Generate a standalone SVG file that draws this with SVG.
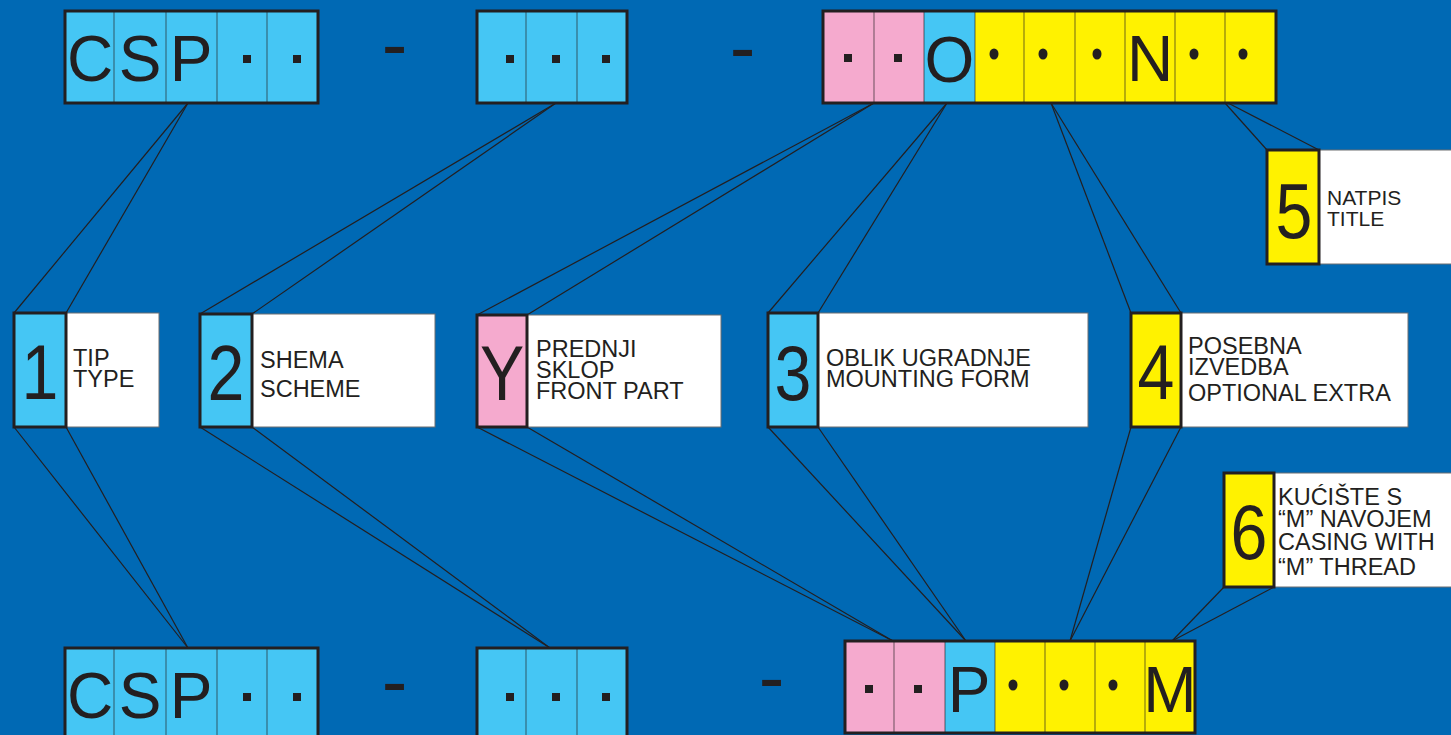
<svg xmlns="http://www.w3.org/2000/svg" width="1451" height="735" viewBox="0 0 1451 735">
<style>
.bg{fill:#0069B4}
.frame{fill:none;stroke:#231F20;stroke-width:3}
.div{stroke:#231F20;stroke-opacity:0.55;stroke-width:1.2}
.blue{fill:#45C6F4}
.pink{fill:#F5AACE}
.yel{fill:#FFF200}
.wht{fill:#FFFFFF;stroke:#6d6e71;stroke-width:1}
.key{stroke:#231F20;stroke-width:3}
.big{font-family:"Liberation Sans",Arial,sans-serif;font-size:64px;fill:#231F20;text-anchor:middle}
.dig{font-family:"Liberation Sans",Arial,sans-serif;font-size:78px;fill:#231F20;text-anchor:middle}
.lbl{font-family:"Liberation Sans",Arial,sans-serif;font-size:23.5px;fill:#231F20}
.dash{font-family:"Liberation Sans",Arial,sans-serif;font-size:77px;fill:#231F20;text-anchor:middle}
.dot{fill:#231F20}
.con line{stroke:#231F20;stroke-width:1.2}
</style>
<rect class="bg" x="0" y="0" width="1451" height="735"/>

<g id="connectors" class="con">
  <line x1="188" y1="103" x2="14" y2="313"/>
  <line x1="188" y1="103" x2="66" y2="313"/>
  <line x1="14" y1="427" x2="188" y2="648"/>
  <line x1="66" y1="427" x2="188" y2="648"/>
  <line x1="556" y1="103" x2="200" y2="314"/>
  <line x1="556" y1="103" x2="252" y2="314"/>
  <line x1="200" y1="427" x2="550" y2="648"/>
  <line x1="252" y1="427" x2="550" y2="648"/>
  <line x1="874" y1="103" x2="477" y2="315"/>
  <line x1="874" y1="103" x2="527" y2="315"/>
  <line x1="477" y1="427" x2="893" y2="641"/>
  <line x1="527" y1="427" x2="893" y2="641"/>
  <line x1="947" y1="103" x2="768" y2="313"/>
  <line x1="947" y1="103" x2="818" y2="313"/>
  <line x1="768" y1="427" x2="966" y2="641"/>
  <line x1="818" y1="427" x2="966" y2="641"/>
  <line x1="1051" y1="103" x2="1131" y2="313"/>
  <line x1="1051" y1="103" x2="1181" y2="313"/>
  <line x1="1131" y1="427" x2="1070" y2="641"/>
  <line x1="1181" y1="427" x2="1070" y2="641"/>
  <line x1="1225" y1="103" x2="1267" y2="150"/>
  <line x1="1228" y1="103" x2="1319" y2="150"/>
  <line x1="1224" y1="587" x2="1172" y2="641"/>
  <line x1="1274" y1="587" x2="1172" y2="641"/>
</g>

<g id="top-csp">
  <rect class="blue" x="65" y="11" width="253" height="92"/>
  <line class="div" x1="114" y1="11" x2="114" y2="103"/>
  <line class="div" x1="166" y1="11" x2="166" y2="103"/>
  <line class="div" x1="217" y1="11" x2="217" y2="103"/>
  <line class="div" x1="267" y1="11" x2="267" y2="103"/>
  <rect class="frame" x="65" y="11" width="253" height="92"/>
  <text class="big" x="90" y="81">C</text>
  <text class="big" x="140" y="81">S</text>
  <text class="big" x="191" y="81">P</text>
  <rect class="dot" x="243" y="55" width="8" height="8"/>
  <rect class="dot" x="293" y="55" width="8" height="8"/>
</g>
<text class="dash" x="394.5" y="71">-</text>

<g id="top-scheme">
  <rect class="blue" x="477" y="11" width="150" height="92"/>
  <line class="div" x1="526" y1="11" x2="526" y2="103"/>
  <line class="div" x1="577" y1="11" x2="577" y2="103"/>
  <rect class="frame" x="477" y="11" width="150" height="92"/>
  <rect class="dot" x="506" y="55" width="8" height="8"/>
  <rect class="dot" x="552" y="55" width="8" height="8"/>
  <rect class="dot" x="602" y="55" width="8" height="8"/>
</g>
<text class="dash" x="742.5" y="74">-</text>

<g id="top-suffix">
  <rect class="pink" x="823" y="11" width="101" height="92"/>
  <rect class="blue" x="924" y="11" width="51" height="92"/>
  <rect class="yel" x="975" y="11" width="301" height="92"/>
  <line class="div" x1="874" y1="11" x2="874" y2="103"/>
  <line class="div" x1="924" y1="11" x2="924" y2="103"/>
  <line class="div" x1="975" y1="11" x2="975" y2="103"/>
  <line class="div" x1="1024" y1="11" x2="1024" y2="103"/>
  <line class="div" x1="1075" y1="11" x2="1075" y2="103"/>
  <line class="div" x1="1125" y1="11" x2="1125" y2="103"/>
  <line class="div" x1="1175" y1="11" x2="1175" y2="103"/>
  <line class="div" x1="1225" y1="11" x2="1225" y2="103"/>
  <rect class="frame" x="823" y="11" width="453" height="92"/>
  <rect class="dot" x="844" y="54" width="8" height="8"/>
  <rect class="dot" x="894" y="54" width="8" height="8"/>
  <text class="big" x="949.5" y="82">O</text>
  <ellipse class="dot" cx="994" cy="54" rx="4.5" ry="5.5"/>
  <ellipse class="dot" cx="1043" cy="54" rx="4.5" ry="5.5"/>
  <ellipse class="dot" cx="1097" cy="54" rx="4.5" ry="5.5"/>
  <text class="big" x="1150" y="81">N</text>
  <ellipse class="dot" cx="1194" cy="54" rx="4.5" ry="5.5"/>
  <ellipse class="dot" cx="1243" cy="54" rx="4.5" ry="5.5"/>
</g>

<g id="key-1">
  <rect class="wht" x="66" y="313" width="93" height="114"/>
  <rect class="blue key" x="14" y="313" width="52" height="114"/>
  <text class="dig" transform="translate(40,399) scale(0.85,1)">1</text>
  <text class="lbl" x="73" y="366">TIP</text>
  <text class="lbl" x="73" y="387">TYPE</text>
</g>

<g id="key-2">
  <rect class="wht" x="252" y="314" width="183" height="113"/>
  <rect class="blue key" x="200" y="314" width="52" height="113"/>
  <text class="dig" transform="translate(226,400) scale(0.85,1)">2</text>
  <text class="lbl" x="260" y="368">SHEMA</text>
  <text class="lbl" x="260" y="397">SCHEME</text>
</g>

<g id="key-y">
  <rect class="wht" x="527" y="315" width="194" height="112"/>
  <rect class="pink key" x="477" y="315" width="50" height="112"/>
  <text class="dig" transform="translate(502,400) scale(0.85,1)">Y</text>
  <text class="lbl" x="536" y="357">PREDNJI</text>
  <text class="lbl" x="536" y="378">SKLOP</text>
  <text class="lbl" x="536" y="399">FRONT PART</text>
</g>

<g id="key-3">
  <rect class="wht" x="818" y="313" width="270" height="114"/>
  <rect class="blue key" x="768" y="313" width="50" height="114"/>
  <text class="dig" transform="translate(793,400) scale(0.85,1)">3</text>
  <text class="lbl" x="826" y="366">OBLIK UGRADNJE</text>
  <text class="lbl" x="826" y="387">MOUNTING FORM</text>
</g>

<g id="key-4">
  <rect class="wht" x="1181" y="313" width="227" height="114"/>
  <rect class="yel key" x="1131" y="313" width="50" height="114"/>
  <text class="dig" transform="translate(1156,399) scale(0.85,1)">4</text>
  <text class="lbl" x="1188" y="354">POSEBNA</text>
  <text class="lbl" x="1188" y="375">IZVEDBA</text>
  <text class="lbl" x="1188" y="401">OPTIONAL EXTRA</text>
</g>

<g id="key-5">
  <rect class="wht" x="1319" y="150" width="140" height="114"/>
  <rect class="yel key" x="1267" y="150" width="52" height="114"/>
  <text class="dig" transform="translate(1294,238) scale(0.85,1)">5</text>
  <text class="lbl" x="1327" y="205" style="font-size:21px">NATPIS</text>
  <text class="lbl" x="1327" y="226" style="font-size:21px">TITLE</text>
</g>

<g id="key-6">
  <rect class="wht" x="1274" y="473" width="185" height="114"/>
  <rect class="yel key" x="1224" y="473" width="50" height="114"/>
  <text class="dig" transform="translate(1249,559) scale(0.85,1)">6</text>
  <text class="lbl" x="1278" y="505">KUĆIŠTE S</text>
  <text class="lbl" x="1278" y="527">“M” NAVOJEM</text>
  <text class="lbl" x="1278" y="550">CASING WITH</text>
  <text class="lbl" x="1278" y="575">“M” THREAD</text>
</g>

<g id="bottom-csp">
  <rect class="blue" x="65" y="648" width="253" height="92"/>
  <line class="div" x1="114" y1="648" x2="114" y2="740"/>
  <line class="div" x1="166" y1="648" x2="166" y2="740"/>
  <line class="div" x1="217" y1="648" x2="217" y2="740"/>
  <line class="div" x1="267" y1="648" x2="267" y2="740"/>
  <rect class="frame" x="65" y="648" width="253" height="92"/>
  <text class="big" x="90" y="718">C</text>
  <text class="big" x="140" y="718">S</text>
  <text class="big" x="191" y="718">P</text>
  <rect class="dot" x="243" y="693" width="8" height="8"/>
  <rect class="dot" x="293" y="693" width="8" height="8"/>
</g>
<text class="dash" x="394.5" y="708">-</text>

<g id="bottom-scheme">
  <rect class="blue" x="477" y="648" width="150" height="92"/>
  <line class="div" x1="526" y1="648" x2="526" y2="740"/>
  <line class="div" x1="577" y1="648" x2="577" y2="740"/>
  <rect class="frame" x="477" y="648" width="150" height="92"/>
  <rect class="dot" x="506" y="693" width="8" height="8"/>
  <rect class="dot" x="552" y="693" width="8" height="8"/>
  <rect class="dot" x="602" y="693" width="8" height="8"/>
</g>
<text class="dash" x="771.5" y="704">-</text>

<g id="bottom-suffix">
  <rect class="pink" x="845" y="641" width="100" height="92"/>
  <rect class="blue" x="945" y="641" width="50" height="92"/>
  <rect class="yel" x="995" y="641" width="200" height="92"/>
  <line class="div" x1="894" y1="641" x2="894" y2="733"/>
  <line class="div" x1="945" y1="641" x2="945" y2="733"/>
  <line class="div" x1="995" y1="641" x2="995" y2="733"/>
  <line class="div" x1="1045" y1="641" x2="1045" y2="733"/>
  <line class="div" x1="1095" y1="641" x2="1095" y2="733"/>
  <line class="div" x1="1145" y1="641" x2="1145" y2="733"/>
  <rect class="frame" x="845" y="641" width="350" height="92"/>
  <rect class="dot" x="865" y="685" width="8" height="8"/>
  <rect class="dot" x="914" y="685" width="8" height="8"/>
  <text class="big" x="969" y="712">P</text>
  <ellipse class="dot" cx="1013" cy="685" rx="4.5" ry="5.5"/>
  <ellipse class="dot" cx="1064" cy="685" rx="4.5" ry="5.5"/>
  <ellipse class="dot" cx="1113" cy="685" rx="4.5" ry="5.5"/>
  <text class="big" x="1170" y="712">M</text>
</g>
</svg>
